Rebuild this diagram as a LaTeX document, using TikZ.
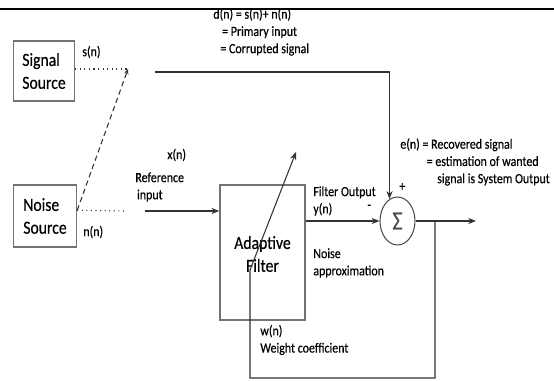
\documentclass[tikz,border=0pt]{standalone}
\usepackage{fontspec}
\setmainfont{Carlito}[FakeStretch=0.85, FakeBold=0.4]
\usetikzlibrary{arrows.meta, positioning, calc, shapes.geometric}

\begin{document}
\begin{tikzpicture}[
  x=0.02cm, y=-0.02cm,
  blk/.style={draw, thick, black!55, text=black, align=left, inner sep=2pt, font=\fontsize{10.5}{13}\selectfont},
  lbl/.style={anchor=west, inner sep=0pt, align=left, font=\fontsize{8}{9.8}\selectfont},
  wire/.style={black!80, semithick},
  arr/.style={wire, -{Stealth[length=4.5pt, width=3.5pt]}}
]
  \useasboundingbox (0,0) rectangle (554,381);
  \draw[black, thick] (0,9) -- (554,9);

  % sources
  \node[blk, minimum width=1.22cm, minimum height=1.2cm] (sig) at (44,71) {Signal\\Source};
  \node[blk, minimum width=1.26cm, minimum height=1.24cm] (noise) at (45,216) {Noise\\Source};
  \coordinate (sw) at (128,69);
  \coordinate (dstart) at (155,72);
  \coordinate (nend) at (125,211);
  \coordinate (xstart) at (145,211);

  \draw[wire, dotted] (sig.east |- sw) -- (sw);
  \draw[wire, densely dashed, -{Stealth[length=3pt, width=2.5pt]}] (noise.10) -- (sw);
  \draw[wire, dotted] (noise.10) -- (nend);

  % filter and summer
  \node[blk, minimum width=1.7cm, minimum height=2.7cm, align=center] (filt) at (262.5,252.5) {\\[-4pt]Adaptive\\Filter};
  \node[draw, semithick, black!70, ellipse, minimum width=0.7cm, minimum height=0.96cm, inner sep=0pt, font=\fontsize{15}{15}\selectfont] (sum) at (397.5,221) {Σ};
  \coordinate (out) at (476,221);
  \coordinate (br) at (435,221);
  \coordinate (fbr) at (435,378);
  \coordinate (fbl) at (250,378);
  \coordinate (fbk) at (250,270);
  \coordinate (wtip) at (296,152);

  \draw[arr] (dstart) -| (sum.110);
  \draw[arr] (xstart) -- (filt.west |- xstart);
  \draw[arr] (filt.east |- sum.west) -- (sum.west);
  \draw[arr] (sum.east) -- (out);
  \draw[arr] (br) -- (fbr) -- (fbl) -- (fbk) -- (wtip);

  % labels
  \node[lbl] (sn) at (82,52) {s(n)};
  \node[lbl] (nn) at (83,232) {n(n)};
  \node[lbl] (xn) at (167,155) {x(n)};
  \node[lbl] (ref) at (135,187) {Reference\\\hspace{1pt}input};
  \node[lbl] (dn) at (213,32) {d(n) = s(n)+ n(n)\\\hspace{5pt}= Primary input\\\hspace{4pt}= Corrupted signal};
  \node[lbl] (en) at (400,162) {e(n) = Recovered signal\\\hspace{15pt}= estimation of wanted\\\hspace{21pt}signal is System Output};
  \node[lbl] (plus) at (399,187) {+};
  \node[lbl] (minus) at (367,207) {-};
  \node[lbl] (yn) at (313,201) {Filter Output\\y(n)};
  \node[lbl] (na) at (313,263) {Noise\\approximation};
  \node[lbl] (wn) at (260,340) {w(n)\\Weight coefficient};
\end{tikzpicture}
\end{document}
